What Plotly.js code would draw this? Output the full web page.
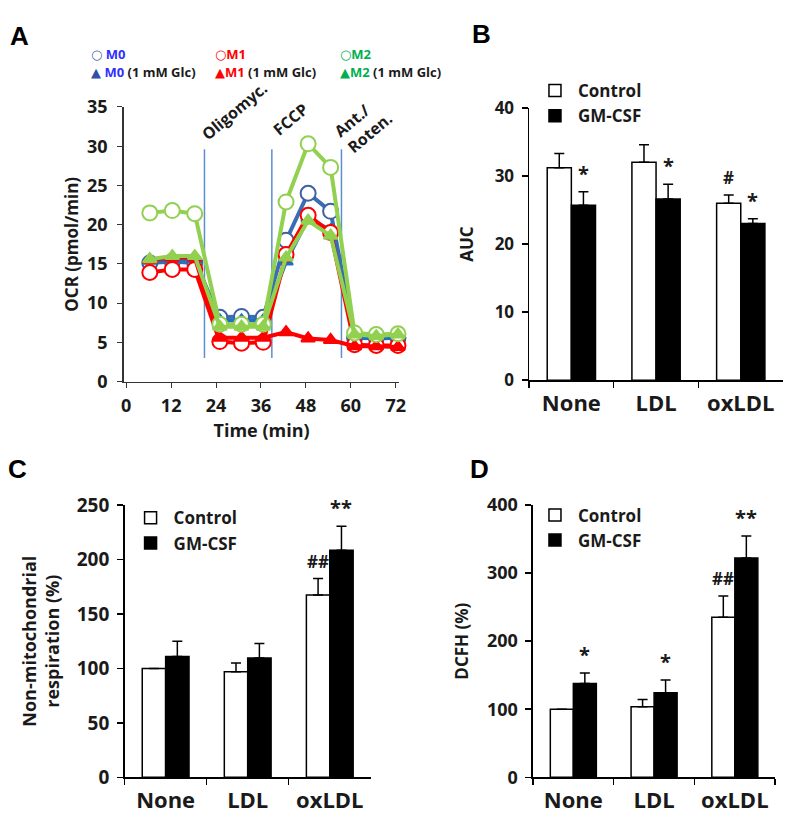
<!DOCTYPE html>
<html><head><meta charset="utf-8">
<script src="https://cdn.plot.ly/plotly-3.0.1.min.js"></script>
<style>html,body{margin:0;padding:0;background:#fff}#chart{width:800px;height:830px}</style>
</head><body><div id="chart"></div>
<script>
// ---------- Panel A data ----------
const timeMin   = [6.3, 12.3, 18.3, 25.0, 30.8, 36.6, 42.7, 48.6, 54.6, 61.0, 66.8, 72.6];
const ocrM0     = [15.1, 15.3, 15.1, 8.2, 8.3, 8.2, 18.0, 24.0, 21.7, 5.6, 5.6, 5.6];
const ocrM1     = [13.9, 14.3, 14.3, 5.1, 4.9, 5.0, 16.2, 21.2, 19.0, 4.7, 4.6, 4.6];
const ocrM2     = [21.5, 21.8, 21.4, 7.3, 7.3, 7.3, 22.9, 30.3, 27.3, 6.2, 6.0, 6.1];
const ocrM0Glc  = [15.4, 15.6, 15.6, 7.8, 7.8, 7.8, 15.3, 20.8, 19.3, 5.6, 5.5, 5.6];
const ocrM1Glc  = [15.5, 15.8, 15.8, 5.6, 5.6, 5.6, 6.3, 5.5, 5.3, 4.5, 4.5, 4.4];
const ocrM2Glc  = [15.6, 16.0, 16.0, 7.0, 7.0, 7.0, 15.8, 20.5, 18.6, 6.0, 5.8, 6.0];
const injectTimes  = [20.9, 38.9, 57.5];
const injectLabels = ["Oligomyc.", "FCCP", "Ant./<br>Roten."];
const injectRange  = [3, 29.6];

// ---------- Bar panels data ----------
const groups = ["None", "LDL", "oxLDL"];
const legendNames = ["Control", "GM-CSF"];

const aucControl    = [31.2, 32.0, 26.0];
const aucControlErr = [2.1, 2.6, 1.2];
const aucGM         = [25.7, 26.6, 23.0];
const aucGMErr      = [2.0, 2.2, 0.7];
const aucControlSig = ["", "", "#"];
const aucGMSig      = ["*", "*", "*"];

const nmrControl    = [100, 97, 167.5];
const nmrControlErr = [0, 8, 15];
const nmrGM         = [111, 109.5, 208.5];
const nmrGMErr      = [14, 13.3, 22];
const nmrControlSig = ["", "", "##"];
const nmrGMSig      = ["", "", "**"];

const dcfhControl    = [100, 103.6, 235];
const dcfhControlErr = [0, 10.8, 31.4];
const dcfhGM         = [137.7, 124.4, 322.4];
const dcfhGMErr      = [15.7, 18.5, 32.3];
const dcfhControlSig = ["", "", "##"];
const dcfhGMSig      = ["*", "*", "**"];

// ---------- helpers ----------
const FONT = "Open Sans, DejaVu Sans, sans-serif";
const INK = "#1a1a1a";
const W = 800, H = 830;
const px = v => v / W;
const py = v => 1 - v / H;
const BARGAP = 0.43;
const half = (1 - BARGAP) / 4;
const LABEL_ANGLE = -40;
const labelShift = [[30, 38], [19, 30], [22, 25]];

const traces = [];

function lineTrace(name, y, lineColor, symbol, fill, mColor, size) {
  return {
    type: "scatter", mode: "lines+markers", name: name, x: timeMin, y: y,
    xaxis: "x", yaxis: "y", showlegend: false, cliponaxis: false,
    line: {color: lineColor, width: 4},
    marker: {symbol: symbol, size: size, color: fill, line: {color: mColor, width: 2}}
  };
}
traces.push(lineTrace("M0", ocrM0, "#3b6db3", "circle", "#ffffff", "#3f60a3", 15));
traces.push(lineTrace("M0 (1 mM Glc)", ocrM0Glc, "#1f6fc4", "triangle-up", "#1f6fc4", "#1f6fc4", 12));
traces.push(lineTrace("M1", ocrM1, "#ff0000", "circle", "#ffffff", "#ff0000", 15));
traces.push(lineTrace("M1 (1 mM Glc)", ocrM1Glc, "#ff0000", "triangle-up", "#ff0000", "#ff0000", 12));
traces.push(lineTrace("M2", ocrM2, "#92d050", "circle", "#ffffff", "#92d050", 15));
traces.push(lineTrace("M2 (1 mM Glc)", ocrM2Glc, "#92d050", "triangle-up", "#92d050", "#92d050", 12));

const annotations = [];
const shapes = [];
const rotatedIdx = [];

injectTimes.forEach((t, i) => {
  shapes.push({type: "line", xref: "x", yref: "y", x0: t, x1: t, y0: injectRange[0], y1: injectRange[1],
               line: {color: "#5b8fd0", width: 1.5}, layer: "below"});
  rotatedIdx.push(annotations.length);
  annotations.push({xref: "x", yref: "y", x: t, y: injectRange[1], text: injectLabels[i],
                    showarrow: false, xanchor: "center", yanchor: "middle", textangle: LABEL_ANGLE, align: "left",
                    xshift: labelShift[i][0], yshift: labelShift[i][1],
                    font: {family: FONT, size: 16, weight: "bold", color: INK}});
});

// Panel A custom legend
const legA = [
  {x: 88,  y: 42, t: "<span style='color:#4a6aa8'>○</span> <span style='color:#2f2fff'>M0</span>"},
  {x: 88,  y: 61, t: "<span style='color:#2f4fa8'>▲</span> <span style='color:#2f2fff'>M0</span> (1 mM Glc)"},
  {x: 213, y: 42, t: "<span style='color:#ff0000'>○M1</span>"},
  {x: 213, y: 61, t: "<span style='color:#ff0000'>▲M1</span> (1 mM Glc)"},
  {x: 340, y: 42, t: "<span style='color:#00b050'>○M2</span>"},
  {x: 340, y: 61, t: "<span style='color:#00b050'>▲M2</span> (1 mM Glc)"}
];
legA.forEach(l => annotations.push({xref: "paper", yref: "paper", x: px(l.x), y: py(l.y), text: l.t,
  showarrow: false, xanchor: "left", yanchor: "middle",
  font: {family: FONT, size: 13, weight: "bold", color: INK}}));

// panel letters
[["A", 18, 24], ["B", 485, 22], ["C", 16, 471], ["D", 483, 471]].forEach(p =>
  annotations.push({xref: "paper", yref: "paper", x: px(p[1]), y: py(p[2]), text: p[0], showarrow: false,
                    xanchor: "center", yanchor: "middle",
                    font: {family: "Liberation Sans, Arial, sans-serif", size: 26, weight: "bold", color: "#000"}}));

function barPanel(xa, ya, leg, ctrl, ctrlErr, gm, gmErr, ctrlSig, gmSig) {
  const zeros = ctrl.map(() => 0);
  traces.push({type: "bar", name: legendNames[0], x: groups, y: ctrl, xaxis: xa, yaxis: ya, legend: leg,
    marker: {color: "#ffffff", line: {color: "#000", width: 1.5}},
    error_y: {type: "data", symmetric: false, array: ctrlErr, arrayminus: zeros, color: "#000", thickness: 1.5, width: 5}});
  traces.push({type: "bar", name: legendNames[1], x: groups, y: gm, xaxis: xa, yaxis: ya, legend: leg,
    marker: {color: "#000000", line: {color: "#000", width: 1.5}},
    error_y: {type: "data", symmetric: false, array: gmErr, arrayminus: zeros, color: "#000", thickness: 1.5, width: 5}});
  const addSig = (sig, vals, errs, off) => sig.forEach((s, i) => {
    if (!s) return;
    const star = s.indexOf("*") >= 0;
    annotations.push({xref: xa, yref: ya, x: i + off, y: vals[i] + errs[i], text: s, showarrow: false,
      xanchor: "center", yanchor: "bottom", yshift: star ? 3 : 4,
      font: {family: FONT, size: star ? 20 : 17, weight: "bold", color: INK}});
  });
  addSig(ctrlSig, ctrl, ctrlErr, -half);
  addSig(gmSig, gm, gmErr, half);
}
barPanel("x2", "y2", "legend2", aucControl, aucControlErr, aucGM, aucGMErr, aucControlSig, aucGMSig);
barPanel("x3", "y3", "legend3", nmrControl, nmrControlErr, nmrGM, nmrGMErr, nmrControlSig, nmrGMSig);
barPanel("x4", "y4", "legend4", dcfhControl, dcfhControlErr, dcfhGM, dcfhGMErr, dcfhControlSig, dcfhGMSig);

const catFont = {family: FONT, size: 22, weight: "bold", color: INK};

function catAxis(dom, anchor) {
  return {domain: dom, anchor: anchor, type: "category", range: [-0.5, 2.5], showgrid: false, zeroline: false,
    showline: true, linecolor: "#000", linewidth: 1.5, ticks: "outside", tickson: "boundaries", ticklen: 6,
    tickcolor: "#000", tickwidth: 1.5, tickfont: catFont, ticklabelstandoff: 3, fixedrange: true};
}
function valAxis(dom, anchor, range, dtick, title, standoff, tsize, ttsize) {
  return {domain: dom, anchor: anchor, range: range, dtick: dtick, showgrid: false, zeroline: false,
    showline: true, linecolor: "#000", linewidth: 1.5, ticks: "outside", ticklen: 6, tickcolor: "#000", tickwidth: 1.5,
    tickfont: {family: FONT, size: tsize, weight: "bold", color: INK}, ticklabelstandoff: 4,
    title: {text: title, font: {family: FONT, size: ttsize, weight: "bold", color: INK}, standoff: standoff}, automargin: true};
}
function legendAt(x, y) {
  return {x: px(x), y: py(y), xanchor: "left", yanchor: "top", bgcolor: "rgba(0,0,0,0)", borderwidth: 0,
    font: {family: FONT, size: 17, weight: "bold", color: INK}, tracegroupgap: 0, itemwidth: 36, itemclick: false};
}

const layout = {
  width: W, height: H, margin: {l: 0, r: 0, t: 0, b: 0}, paper_bgcolor: "#fff", plot_bgcolor: "rgba(0,0,0,0)",
  showlegend: true, barmode: "group", bargap: BARGAP, bargroupgap: 0,
  xaxis: {domain: [px(123), px(402)], anchor: "y", range: [-0.7, 73], tickvals: [0, 12, 24, 36, 48, 60, 72],
    showgrid: false, zeroline: false, showline: true, linecolor: "#333", linewidth: 1.5,
    ticks: "outside", ticklen: 5, tickcolor: "#333", tickfont: {family: FONT, size: 18, weight: "bold", color: INK},
    ticklabelstandoff: 2, title: {text: "Time (min)", font: {family: FONT, size: 18, weight: "bold", color: INK}, standoff: 8},
    automargin: true},
  yaxis: {domain: [py(380.5), py(97)], anchor: "x", range: [0, 35], dtick: 5, showgrid: false, zeroline: false,
    showline: true, linecolor: "#333", linewidth: 1.5, ticks: "outside", ticklen: 5, tickcolor: "#333",
    tickfont: {family: FONT, size: 18, weight: "bold", color: INK}, ticklabelstandoff: 6,
    title: {text: "OCR (pmol/min)", font: {family: FONT, size: 17, weight: "bold", color: INK}, standoff: 4},
    automargin: true},
  xaxis2: catAxis([px(533), px(790)], "y2"),
  yaxis2: valAxis([py(379), py(98)], "x2", [0, 40], 10, "AUC", 16, 17, 17),
  xaxis3: catAxis([px(124), px(373)], "y3"),
  yaxis3: valAxis([py(789), py(508)], "x3", [0, 250], 50, "Non-mitochondrial<br>respiration (%)", 12, 19, 18),
  xaxis4: catAxis([px(537), px(782)], "y4"),
  yaxis4: valAxis([py(789), py(508)], "x4", [0, 400], 100, "DCFH (%)", 14, 18, 17),
  legend2: legendAt(536, 62),
  legend3: legendAt(127, 503),
  legend4: legendAt(536, 500),
  annotations: annotations,
  shapes: shapes
};

Plotly.newPlot("chart", traces, layout, {displayModeBar: false, staticPlot: true}).then(gd => {
  // make sure the injection labels are drawn at their angle
  rotatedIdx.forEach(k => {
    const g = gd.querySelector('.annotation[data-index="' + k + '"] .annotation-text-g');
    if (!g) return;
    const tr = g.getAttribute("transform") || "";
    const m = tr.match(/rotate\(\s*(-?[\d.]+)/);
    if (m && Math.abs(parseFloat(m[1])) > 1) return;
    const b = g.getBBox();
    g.setAttribute("transform", "rotate(" + LABEL_ANGLE + "," + (b.x + b.width / 2) + "," + (b.y + b.height / 2) + ")");
  });
});
</script>
</body></html>
